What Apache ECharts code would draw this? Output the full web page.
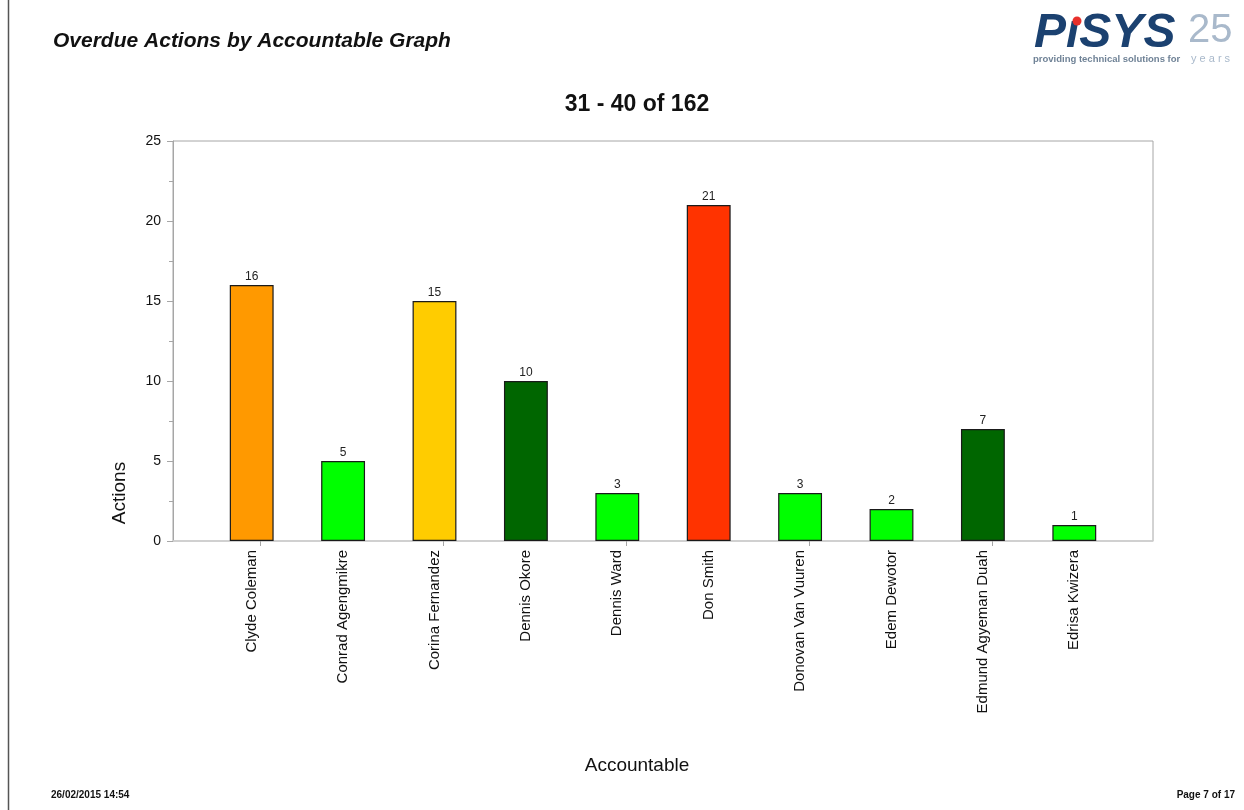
<!DOCTYPE html>
<html>
<head>
<meta charset="utf-8">
<title>Overdue Actions by Accountable Graph</title>
<script src="https://cdn.jsdelivr.net/npm/echarts@6/dist/echarts.min.js"></script>
<style>
  html, body { margin: 0; padding: 0; background: #ffffff; }
  #chart { width: 1244px; height: 810px; }
</style>
</head>
<body>
<div id="chart"></div>
<script>
// Accountable people shown on this page and their overdue action counts
const accountables = [
  'Clyde Coleman', 'Conrad Agengmikre', 'Corina Fernandez', 'Dennis Okore', 'Dennis Ward',
  'Don Smith', 'Donovan Van Vuuren', 'Edem Dewotor', 'Edmund Agyeman Duah', 'Edrisa Kwizera'
];
const overdueActions = [16, 5, 15, 10, 3, 21, 3, 2, 7, 1];
// Status colour per bar
const barColors = [
  '#FF9900', '#00FF00', '#FFCC00', '#006600', '#00FF00',
  '#FF3300', '#00FF00', '#00FF00', '#006600', '#00FF00'
];
const pageTitle = 'Overdue Actions by Accountable Graph';
const rangeTitle = '31 - 40 of 162';
const printedAt = '26/02/2015 14:54';
const pageLabel = 'Page 7 of 17';

const FONT = 'Liberation Sans, Arial, sans-serif';
const AXIS_GREY = '#a6a6a6';
const chart = echarts.init(document.getElementById('chart'), null, { renderer: 'canvas' });

const hiddenValueAxis = (gridIndex) => ({
  gridIndex, type: 'value', min: 0, max: 25,
  axisLine: { show: false }, axisTick: { show: false }, axisLabel: { show: false }, splitLine: { show: false }
});

chart.setOption({
  backgroundColor: '#ffffff',
  animation: false,
  textStyle: { fontFamily: FONT },
  grid: [
    // plot frame, carries the value scale
    { left: 173, right: 91, top: 141, height: 400, show: true, borderColor: AXIS_GREY, borderWidth: 1, containLabel: false },
    // band area holding the bars and the category names
    { left: 206, width: 914, top: 141, height: 400, containLabel: false },
    // category tick marks, set slightly right of the bars
    { left: 215, width: 914, top: 141, height: 400, containLabel: false }
  ],
  xAxis: [
    {
      gridIndex: 0, type: 'value', min: 0, max: 1,
      axisLine: { show: true, lineStyle: { color: '#cfcfcf', width: 1.5 } },
      axisTick: { show: false }, axisLabel: { show: false }, splitLine: { show: false }
    },
    {
      gridIndex: 1, type: 'category', data: accountables,
      axisLine: { show: false }, axisTick: { show: false },
      axisLabel: { rotate: 90, margin: 9, fontSize: 15, color: '#111', fontFamily: FONT, interval: 0 }
    },
    {
      gridIndex: 2, type: 'category', data: accountables,
      axisLine: { show: false }, axisLabel: { show: false },
      axisTick: { show: true, alignWithLabel: true, length: 5, lineStyle: { color: AXIS_GREY } }
    }
  ],
  yAxis: [
    {
      gridIndex: 0, type: 'value', min: 0, max: 25, interval: 5,
      axisLine: { show: true, lineStyle: { color: AXIS_GREY } },
      axisTick: { show: true, length: 6, lineStyle: { color: AXIS_GREY } },
      minorTick: { show: true, splitNumber: 2, length: 4, lineStyle: { color: AXIS_GREY } },
      axisLabel: { margin: 12, fontSize: 14, color: '#111', fontFamily: FONT },
      splitLine: { show: false }
    },
    hiddenValueAxis(1),
    hiddenValueAxis(2)
  ],
  series: [
    {
      type: 'bar',
      xAxisIndex: 1, yAxisIndex: 1,
      barWidth: '48%',
      data: overdueActions.map((v, i) => ({ value: v, itemStyle: { color: barColors[i] } })),
      itemStyle: { borderColor: '#1a1a1a', borderWidth: 1.2 },
      label: { show: true, position: 'top', distance: 2, fontSize: 12, color: '#222', fontFamily: FONT }
    }
  ],
  graphic: [
    // page margin rule
    { type: 'line', shape: { x1: 8.5, y1: 0, x2: 8.5, y2: 810 }, style: { stroke: '#555', lineWidth: 1.5 } },
    // report heading
    { type: 'text', left: 53, top: 31, style: { text: pageTitle, font: 'italic bold 21px ' + FONT, fill: '#111' } },
    // chart heading
    { type: 'text', x: 637, y: 105, style: { text: rangeTitle, font: 'bold 23px ' + FONT, fill: '#111', align: 'center', verticalAlign: 'middle' } },
    // company logo
    { type: 'text', left: 1034, top: 10, style: { text: 'P\u0131SYS', font: 'italic 900 48px ' + FONT, fill: '#1b4170' } },
    { type: 'circle', shape: { cx: 1077, cy: 21, r: 4.5 }, style: { fill: '#e8302c' } },
    { type: 'text', left: 1188, top: 11, style: { text: '25', font: '300 40px ' + FONT, fill: '#a9b9cb' } },
    { type: 'text', left: 1033, top: 54, style: { text: 'providing technical solutions for', font: 'bold 9.5px ' + FONT, fill: '#6f8296' } },
    { type: 'text', left: 1191, top: 53, style: { text: 'y e a r s', font: '11px ' + FONT, fill: '#a9b9cb' } },
    // axis titles
    { type: 'text', x: 120, y: 493, rotation: Math.PI / 2, style: { text: 'Actions', font: '19px ' + FONT, fill: '#111', align: 'center', verticalAlign: 'middle' } },
    { type: 'text', x: 637, y: 766, style: { text: 'Accountable', font: '19px ' + FONT, fill: '#111', align: 'center', verticalAlign: 'middle' } },
    // footer
    { type: 'text', left: 51, top: 790, style: { text: printedAt, font: 'bold 10px ' + FONT, fill: '#111' } },
    { type: 'text', right: 9, top: 790, style: { text: pageLabel, font: 'bold 10px ' + FONT, fill: '#111' } }
  ]
});
</script>
</body>
</html>
